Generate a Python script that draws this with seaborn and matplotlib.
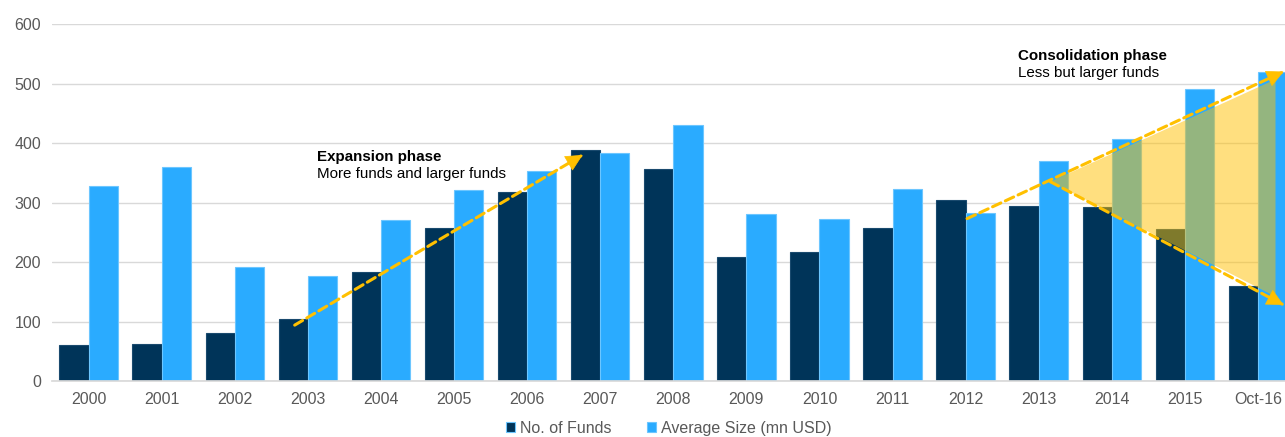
import matplotlib
matplotlib.use("Agg")
import matplotlib.pyplot as plt
from matplotlib.patches import Polygon
import seaborn as sns
import pandas as pd

categories = ["2000", "2001", "2002", "2003", "2004", "2005", "2006", "2007", "2008",
              "2009", "2010", "2011", "2012", "2013", "2014", "2015", "Oct-16"]
no_of_funds = [60, 62, 80, 105, 183, 258, 318, 388, 357, 209, 217, 258, 304, 294, 292, 256, 160]
avg_size = [328, 360, 192, 176, 271, 321, 353, 383, 430, 280, 272, 322, 282, 369, 407, 490, 520]
series_names = ["No. of Funds", "Average Size (mn USD)"]
y_ticks = [0, 100, 200, 300, 400, 500, 600]

df = pd.DataFrame({
    "Year": categories * 2,
    "Value": no_of_funds + avg_size,
    "Series": [series_names[0]] * len(categories) + [series_names[1]] * len(categories),
})

sns.set_theme(style="white")
plt.rcParams["font.family"] = ["Liberation Sans", "DejaVu Sans"]

fig = plt.figure(figsize=(12.85, 4.37), dpi=100)
ax = fig.add_axes([0.0405, 0.128, 0.9595, 0.817])

palette = {series_names[0]: "#003459", series_names[1]: "#2AABFF"}
sns.barplot(data=df, x="Year", y="Value", hue="Series", palette=palette,
            width=0.8, gap=0, ax=ax, saturation=1, zorder=2)
for i, patch in enumerate(ax.patches):
    patch.set_linewidth(0.8)
    if i < len(categories):
        patch.set_edgecolor("#1A4A6E")
    else:
        patch.set_edgecolor("#6CC6FF")

ax.set_ylim(0, 600)
ax.set_xlim(-0.5, 16.37)
ax.set_yticks(y_ticks)
ax.yaxis.grid(True, color="#D9D9D9", linewidth=1, zorder=0)
ax.set_axisbelow(True)
for s in ["top", "right", "left"]:
    ax.spines[s].set_visible(False)
ax.spines["bottom"].set_color("#D9D9D9")
ax.tick_params(axis="both", length=0, labelsize=11.5, labelcolor="#595959", pad=8)
ax.set_xlabel("")
ax.set_ylabel("")

# consolidation triangle
tri = Polygon([(13.16, 335), (16.24, 507), (16.24, 142)], closed=True,
              facecolor="#FFC000", alpha=0.5, edgecolor="none", zorder=3)
ax.add_patch(tri)

arrows = [((2.82, 94), (6.76, 380)),
          ((12.02, 273), (16.35, 520)),
          ((13.16, 335), (16.35, 128))]
line_kw = dict(arrowstyle="-", color="#FFC000", lw=2.2, linestyle=(0, (3, 1.6)),
               shrinkA=0, shrinkB=0)
head_kw = dict(arrowstyle="-|>,head_length=0.7,head_width=0.35", color="#FFC000",
               lw=0.5, mutation_scale=16, shrinkA=0, shrinkB=0)
for (x0, y0), (x1, y1) in arrows:
    ax.annotate("", xy=(x1, y1), xytext=(x0, y0), arrowprops=line_kw, zorder=4)
    t = 0.97
    ax.annotate("", xy=(x1, y1), xytext=(x0 + t * (x1 - x0), y0 + t * (y1 - y0)),
                arrowprops=head_kw, zorder=4)

ax.text(3.13, 376, "Expansion phase", fontsize=10.9, fontweight="bold", color="#000000",
        va="center", ha="left", zorder=5)
ax.text(3.13, 348, "More funds and larger funds", fontsize=10.9, color="#000000",
        va="center", ha="left", zorder=5)
ax.text(12.71, 546, "Consolidation phase", fontsize=10.9, fontweight="bold", color="#000000",
        va="center", ha="left", zorder=5)
ax.text(12.71, 518, "Less but larger funds", fontsize=10.9, color="#000000",
        va="center", ha="left", zorder=5)

handles, labels = ax.get_legend_handles_labels()
ax.legend(handles, labels, loc="center", bbox_to_anchor=(0.5, -0.133), ncol=2,
          frameon=False, fontsize=11.5, labelcolor="#595959", handlelength=0.6,
          handleheight=0.6, handletextpad=0.3, columnspacing=2.2,
          borderpad=0, borderaxespad=0)

fig.savefig("out.png", dpi=100)
